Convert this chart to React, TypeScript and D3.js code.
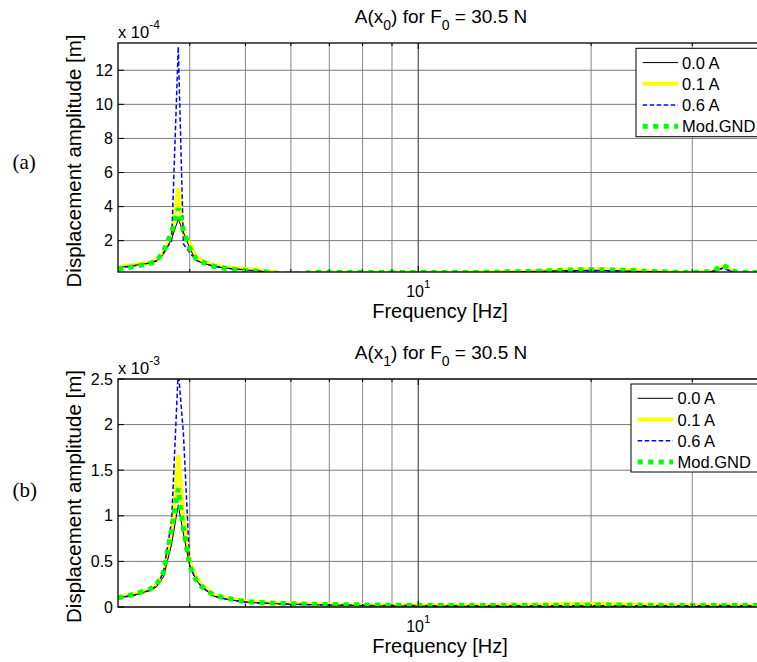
import React from 'react';
import * as d3 from 'd3';

// ---------- DATA ----------
const freqHz = [3.0, 3.2, 3.4, 3.5, 3.6, 3.72, 3.82, 3.9, 4.0, 4.1, 4.2, 4.4, 4.6, 4.8, 5.0, 5.25, 5.5, 5.75, 6.0, 6.25, 6.5, 7, 7.5, 8, 9, 10, 11, 12, 13, 14, 16, 18, 20, 22, 24, 26, 28, 30, 32, 33, 34, 35, 36, 38, 40];

// A(x0), units of 1e-4 m
const x0_00A = [0.42, 0.55, 0.68, 0.8, 1.2, 2.1, 3.26, 2.5, 1.55, 0.85, 0.7, 0.5, 0.4, 0.33, 0.28, 0.22, 0.15, 0.06, 0.04, 0.06, 0.12, 0.12, 0.12, 0.12, 0.12, 0.12, 0.12, 0.12, 0.13, 0.15, 0.2, 0.24, 0.26, 0.24, 0.2, 0.16, 0.13, 0.12, 0.15, 0.25, 0.42, 0.22, 0.12, 0.1, 0.1];
const x0_01A = [0.45, 0.58, 0.72, 0.85, 1.3, 2.3, 5.07, 2.4, 1.8, 1.05, 0.82, 0.58, 0.46, 0.4, 0.35, 0.28, 0.2, 0.07, 0.04, 0.06, 0.11, 0.11, 0.11, 0.11, 0.11, 0.11, 0.11, 0.12, 0.14, 0.16, 0.22, 0.28, 0.32, 0.3, 0.26, 0.2, 0.15, 0.12, 0.18, 0.3, 0.5, 0.25, 0.12, 0.1, 0.1];
const x0_06A = [0.4, 0.52, 0.68, 0.82, 1.3, 2.0, 13.38, 1.8, 1.3, 0.85, 0.7, 0.5, 0.4, 0.33, 0.28, 0.22, 0.15, 0.05, 0.04, 0.05, 0.1, 0.1, 0.1, 0.1, 0.1, 0.1, 0.1, 0.1, 0.11, 0.12, 0.15, 0.2, 0.24, 0.22, 0.18, 0.15, 0.12, 0.1, 0.14, 0.25, 0.38, 0.2, 0.1, 0.1, 0.1];
const x0_GND = [0.33, 0.48, 0.65, 0.8, 1.35, 2.5, 3.9, 2.6, 1.55, 0.95, 0.75, 0.5, 0.38, 0.3, 0.25, 0.2, 0.14, 0.05, 0.04, 0.05, 0.13, 0.13, 0.13, 0.13, 0.13, 0.13, 0.13, 0.13, 0.14, 0.16, 0.2, 0.27, 0.3, 0.28, 0.24, 0.18, 0.14, 0.13, 0.18, 0.32, 0.57, 0.28, 0.13, 0.13, 0.13];

// A(x1), units of 1e-3 m
const x1_00A = [0.1, 0.13, 0.18, 0.22, 0.33, 0.69, 1.12, 0.8, 0.45, 0.3, 0.22, 0.12, 0.09, 0.07, 0.055, 0.045, 0.04, 0.035, 0.03, 0.03, 0.025, 0.02, 0.018, 0.015, 0.01, 0.01, 0.008, 0.007, 0.006, 0.006, 0.005, 0.005, 0.006, 0.006, 0.005, 0.005, 0.005, 0.005, 0.005, 0.005, 0.006, 0.005, 0.005, 0.005, 0.005];
const x1_01A = [0.1, 0.14, 0.19, 0.24, 0.36, 0.8, 1.67, 1.0, 0.5, 0.33, 0.24, 0.13, 0.1, 0.08, 0.065, 0.055, 0.048, 0.042, 0.038, 0.035, 0.032, 0.028, 0.025, 0.022, 0.02, 0.02, 0.02, 0.02, 0.021, 0.023, 0.026, 0.03, 0.033, 0.03, 0.027, 0.024, 0.022, 0.02, 0.02, 0.021, 0.022, 0.02, 0.018, 0.017, 0.016];
const x1_06A = [0.1, 0.13, 0.18, 0.23, 0.38, 0.95, 2.6, 1.9, 0.45, 0.3, 0.22, 0.12, 0.09, 0.07, 0.055, 0.045, 0.04, 0.035, 0.03, 0.028, 0.025, 0.022, 0.02, 0.018, 0.016, 0.015, 0.015, 0.015, 0.015, 0.015, 0.015, 0.015, 0.015, 0.015, 0.015, 0.015, 0.015, 0.015, 0.015, 0.016, 0.016, 0.015, 0.015, 0.015, 0.015];
const x1_GND = [0.1, 0.14, 0.19, 0.24, 0.38, 0.85, 1.3, 0.85, 0.45, 0.3, 0.22, 0.13, 0.1, 0.08, 0.06, 0.05, 0.045, 0.04, 0.035, 0.032, 0.03, 0.027, 0.025, 0.023, 0.02, 0.02, 0.02, 0.02, 0.02, 0.02, 0.02, 0.02, 0.022, 0.021, 0.02, 0.02, 0.02, 0.02, 0.02, 0.02, 0.02, 0.02, 0.02, 0.02, 0.02];

const seriesNames = ['0.0 A', '0.1 A', '0.6 A', 'Mod.GND'];
const yTicksA = [2, 4, 6, 8, 10, 12];
const yTicksB = [0, 0.5, 1, 1.5, 2, 2.5];
const xMinorTicks = [4, 5, 6, 7, 8, 9, 20, 30];
const xMajorTicks = [10];
const xDomain = [3, 40];

// ---------- STYLES ----------
const seriesStyle = [
  { stroke: '#000000', width: 1, dash: undefined as string | undefined },
  { stroke: '#ffff00', width: 4, dash: undefined },
  { stroke: '#0000ff', width: 1.5, dash: '4.5 2.5' },
  { stroke: '#00ff00', width: 5, dash: '5 5.5' },
];
const drawOrder = [1, 0, 2, 3];

const SANS = '"Liberation Sans", Arial, Helvetica, sans-serif';
const SERIF = '"Liberation Serif", "Times New Roman", serif';

const W = 757;
const H = 662;
const X0 = 118;
const X1 = 764;

const panels = [
  {
    id: 'a', top: 43, bottom: 272, yDomain: [0.16, 13.6], yTicks: yTicksA, exp: '-4', sub: '0',
    data: [x0_00A, x0_01A, x0_06A, x0_GND],
    legend: { x: 636, y: 48.3, w: 124, h: 88.4, l0: 642.7, l1: 678, tx: 682 },
    tag: '(a)', tagY: 169,
  },
  {
    id: 'b', top: 379, bottom: 607, yDomain: [0, 2.5], yTicks: yTicksB, exp: '-3', sub: '1',
    data: [x1_00A, x1_01A, x1_06A, x1_GND],
    legend: { x: 631, y: 384, w: 129, h: 88, l0: 637.7, l1: 673, tx: 677.5 },
    tag: '(b)', tagY: 497,
  },
];

function Panel({ p }: { p: typeof panels[number] }) {
  const x = d3.scaleLog().domain(xDomain).range([X0, X1]);
  const y = d3.scaleLinear().domain(p.yDomain).range([p.bottom, p.top]);
  const clipId = `clip-${p.id}`;
  const cx = (X0 + X1) / 2;
  const cy = (p.top + p.bottom) / 2;
  return (
    <g>
      <defs>
        <clipPath id={clipId}>
          <rect x={X0} y={p.top} width={X1 - X0} height={p.bottom - p.top} />
        </clipPath>
      </defs>
      <rect x={X0} y={p.top} width={X1 - X0} height={p.bottom - p.top} fill="#fff" />
      {/* grid */}
      {p.yTicks.map((t) => (
        <line key={'gy' + t} x1={X0} x2={X1} y1={y(t)} y2={y(t)} stroke="#7a7a7a" strokeWidth={1} />
      ))}
      {xMinorTicks.map((t) => (
        <line key={'gx' + t} x1={x(t)} x2={x(t)} y1={p.top} y2={p.bottom} stroke="#858585" strokeWidth={1} />
      ))}
      {xMajorTicks.map((t) => (
        <line key={'gX' + t} x1={x(t)} x2={x(t)} y1={p.top} y2={p.bottom} stroke="#505050" strokeWidth={1.2} />
      ))}
      {/* data */}
      <g clipPath={`url(#${clipId})`}>
        {drawOrder.map((si) => {
          const s = seriesStyle[si];
          const gen = d3
            .line<number>()
            .x((_, i) => x(freqHz[i]))
            .y((d) => y(d));
          return (
            <path
              key={si}
              d={gen(p.data[si]) || ''}
              fill="none"
              stroke={s.stroke}
              strokeWidth={s.width}
              strokeDasharray={s.dash}
              strokeLinejoin="miter"
            />
          );
        })}
      </g>
      {/* box */}
      <rect x={X0} y={p.top} width={X1 - X0} height={p.bottom - p.top} fill="none" stroke="#000" strokeWidth={1.3} />
      {/* ticks */}
      {p.yTicks.map((t) => (
        <g key={'ty' + t}>
          <line x1={X0} x2={X0 + 6} y1={y(t)} y2={y(t)} stroke="#000" />
          <line x1={X1} x2={X1 - 6} y1={y(t)} y2={y(t)} stroke="#000" />
          <text x={113} y={y(t) + 5.6} textAnchor="end" fontSize={16} fontFamily={SANS}>
            {String(t)}
          </text>
        </g>
      ))}
      {xMinorTicks.map((t) => (
        <g key={'tx' + t}>
          <line x1={x(t)} x2={x(t)} y1={p.top} y2={p.top + 3} stroke="#000" />
          <line x1={x(t)} x2={x(t)} y1={p.bottom} y2={p.bottom - 3} stroke="#000" />
        </g>
      ))}
      {xMajorTicks.map((t) => (
        <g key={'tX' + t}>
          <line x1={x(t)} x2={x(t)} y1={p.top} y2={p.top + 6} stroke="#000" />
          <line x1={x(t)} x2={x(t)} y1={p.bottom} y2={p.bottom - 6} stroke="#000" />
          <text x={x(t)} y={p.bottom + 24.7} textAnchor="middle" fontSize={16} fontFamily={SANS}>
            10<tspan dy={-9} fontSize={11.5}>1</tspan>
          </text>
        </g>
      ))}
      {/* exponent */}
      <text x={X0} y={p.top - 5} fontSize={16.5} fontFamily={SANS}>
        x 10<tspan dy={-9} fontSize={12}>{p.exp}</tspan>
      </text>
      {/* title */}
      <text x={cx} y={p.top - 20} textAnchor="middle" fontSize={19} fontFamily={SANS}>
        A(x<tspan dy={7} fontSize={14}>{p.sub}</tspan>
        <tspan dy={-7}>) for F</tspan>
        <tspan dy={7} fontSize={14}>0</tspan>
        <tspan dy={-7}> = 30.5 N</tspan>
      </text>
      {/* x label */}
      <text x={440} y={p.bottom + 46} textAnchor="middle" fontSize={20} fontFamily={SANS}>
        Frequency [Hz]
      </text>
      {/* y label */}
      <text
        transform={`translate(81, ${cy + 3.5}) rotate(-90)`}
        textAnchor="middle"
        fontSize={20.5}
        fontFamily={SANS}
      >
        Displacement amplitude [m]
      </text>
      {/* panel tag */}
      <text x={12.5} y={p.tagY} fontSize={21} fontFamily={SERIF}>
        {p.tag}
      </text>
      {/* legend */}
      <g>
        <rect x={p.legend.x} y={p.legend.y} width={p.legend.w} height={p.legend.h} fill="#fff" stroke="#000" strokeWidth={1} />
        {seriesNames.map((name, i) => {
          const s = seriesStyle[i];
          const ry = p.legend.y + 14.3 + i * 21.2;
          return (
            <g key={name}>
              <line
                x1={p.legend.l0}
                x2={p.legend.l1}
                y1={ry}
                y2={ry}
                stroke={s.stroke}
                strokeWidth={s.width}
                strokeDasharray={s.dash}
              />
              <text x={p.legend.tx} y={ry + 6} fontSize={16.5} fontFamily={SANS}>
                {name}
              </text>
            </g>
          );
        })}
      </g>
    </g>
  );
}

export default function App() {
  return (
    <svg
      width={W}
      height={H}
      viewBox={`0 0 ${W} ${H}`}
      style={{ position: 'absolute', left: 0, top: 0, background: '#fff' }}
    >
      <rect x={0} y={0} width={W} height={H} fill="#fff" />
      {panels.map((p) => (
        <Panel key={p.id} p={p} />
      ))}
    </svg>
  );
}
